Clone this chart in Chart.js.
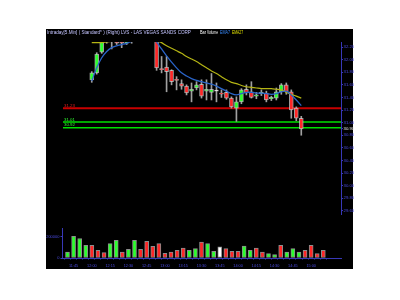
<!DOCTYPE html>
<html><head><meta charset="utf-8">
<script src="https://cdn.jsdelivr.net/npm/chart.js@4/dist/chart.umd.min.js"></script>
<style>
html,body{margin:0;padding:0;background:#fff;width:400px;height:300px;overflow:hidden}
#bg{position:absolute;left:46px;top:29px;width:307px;height:240px;background:#000}
#pc{position:absolute;left:0;top:0}
#vc{position:absolute;left:0;top:220px}
</style></head><body>
<div id="bg"></div>
<canvas id="pc" width="400" height="220"></canvas>
<canvas id="vc" width="400" height="80"></canvas>
<script>
// ---------- data ----------
const times = ['11:40','11:45','11:50','11:55','12:00','12:05','12:10','12:15','12:20','12:25','12:30','12:35','12:40','12:45','12:50','12:55','13:00','13:05','13:10','13:15','13:20','13:25','13:30','13:35','13:40','13:45','13:50','13:55','14:00','14:05','14:10','14:15','14:20','14:25','14:30','14:35','14:40','14:45','14:50','14:55','15:00','15:05','15:10'];
const open  = [31.68,31.79,32.12,32.28,32.38,32.32,32.31,32.26,32.30,32.40,32.36,32.45,32.55,32.48,31.86,31.88,31.83,31.68,31.62,31.58,31.50,31.55,31.61,31.50,31.48,31.50,31.47,31.48,31.39,31.23,31.33,31.53,31.49,31.42,31.46,31.47,31.38,31.39,31.49,31.60,31.49,31.23,31.07];
const high  = [31.81,32.11,32.33,32.42,32.40,32.34,32.33,32.33,32.40,32.44,32.48,32.58,32.60,32.52,32.05,32.05,31.84,31.73,31.68,31.60,31.63,31.65,31.68,31.68,31.78,31.63,31.52,31.52,31.41,31.41,31.54,31.60,31.65,31.48,31.52,31.50,31.42,31.55,31.62,31.63,31.52,31.25,31.10];
const low   = [31.64,31.77,32.10,32.26,32.17,32.24,32.19,32.24,32.26,32.33,32.34,32.43,32.45,31.83,31.79,31.49,31.60,31.52,31.53,31.44,31.33,31.52,31.39,31.36,31.36,31.33,31.40,31.37,31.23,31.02,31.30,31.44,31.39,31.38,31.43,31.33,31.35,31.36,31.45,31.45,31.07,31.03,30.80];
const close = [31.79,32.09,32.29,32.38,32.30,32.26,32.26,32.30,32.38,32.36,32.45,32.55,32.48,31.87,31.84,31.81,31.65,31.67,31.58,31.47,31.53,31.60,31.42,31.53,31.53,31.50,31.45,31.39,31.25,31.33,31.52,31.47,31.40,31.44,31.48,31.36,31.40,31.49,31.60,31.49,31.20,31.07,30.90];
const volume = [57000,207000,185000,121000,121000,73000,51000,137000,169000,57000,83000,169000,83000,159000,111000,137000,45000,57000,73000,95000,73000,89000,152000,137000,64000,105000,89000,64000,64000,114000,73000,95000,57000,42000,32000,121000,57000,89000,57000,73000,121000,42000,73000];
const ema7  = [31.66,31.87,32.03,32.13,32.19,32.22,32.24,32.26,32.29,32.32,32.36,32.41,32.43,32.28,32.17,32.06,31.96,31.87,31.79,31.74,31.70,31.67,31.65,31.63,31.61,31.58,31.54,31.50,31.46,31.44,31.46,31.48,31.48,31.47,31.47,31.46,31.45,31.46,31.49,31.50,31.44,31.36,31.27];
const ema27 = [32.27,32.27,32.27,32.28,32.29,32.30,32.30,32.31,32.31,32.32,32.33,32.34,32.35,32.30,32.27,32.22,32.18,32.14,32.10,32.05,32.01,31.97,31.92,31.87,31.82,31.78,31.73,31.68,31.64,31.62,31.59,31.57,31.56,31.55,31.54,31.54,31.54,31.53,31.52,31.48,31.45,31.42,31.39];
const priceTicks = [32.20,32.00,31.80,31.60,31.40,31.20,31.00,30.80,30.60,30.40,30.20,30.00,29.80,29.60];
const lastPrice = 30.90;
const levels = [31.23,31.01,30.92];
const volTicks = [0,200000];
const headerParts = ['Intraday[5.Min] ( Standard* ) (Right) LVS - LAS VEGAS SANDS CORP','Bar','Volume','EMA7','EMA27'];

// ---------- styles ----------
const levelStyle = [{c:'#c80000',w:2},{c:'#00e000',w:1.5},{c:'#00e000',w:1.5}];
const headerStyle = [{c:'#c4c4ff',x:47,w:148},{c:'#ffffff',x:200,w:6},{c:'#ffffff',x:207,w:11},{c:'#3a8cff',x:220,w:10},{c:'#e0e000',x:232,w:11}];
const AX = '#3838b8', LBL = '#4a4ae0';
const xMin = -0.37, xMax = 44.37;
function dirColor(i){ return close[i]>open[i] ? '#2cff2c' : (close[i]<open[i] ? '#ff2626' : '#ffffff'); }

const idx = times.map((t,i)=>i);
const wickData = idx.map(i=>({x:i, y:[low[i], high[i]]}));
const bodyData = idx.map(i=>({x:i, y:[open[i], close[i]]}));
const e7Data = idx.map(i=>({x:i, y:ema7[i]}));
const e27Data = idx.map(i=>({x:i, y:ema27[i]}));
const volData = idx.map(i=>({x:i, y:volume[i]}));

const pricePlugin = {
  id:'pricePlugin',
  beforeDatasetsDraw(chart){
    const {ctx, chartArea:a, scales:{y}} = chart;
    levels.forEach((lv,k)=>{
      const py = y.getPixelForValue(lv);
      ctx.save(); ctx.strokeStyle = levelStyle[k].c; ctx.lineWidth = levelStyle[k].w;
      ctx.beginPath(); ctx.moveTo(a.left+1, py); ctx.lineTo(a.right, py); ctx.stroke(); ctx.restore();
    });
  },
  afterDraw(chart){
    const {ctx, chartArea:a, scales:{y}} = chart;
    ctx.save();
    ctx.font = '4.6px Arial, "Liberation Sans", sans-serif';
    ctx.textBaseline = 'middle';
    headerParts.forEach((t,k)=>{ ctx.fillStyle = headerStyle[k].c; ctx.fillText(t, headerStyle[k].x, 32.5, headerStyle[k].w); });
    ctx.font = '4.4px Arial, "Liberation Sans", sans-serif';
    ctx.textBaseline = 'bottom';
    levels.forEach((lv,k)=>{
      const py = y.getPixelForValue(lv);
      ctx.fillStyle = levelStyle[k].c === '#c80000' ? '#e02020' : '#30ff30';
      ctx.fillText(lv.toFixed(2), a.left+2, py-0.5);
    });
    ctx.restore();
  }
};

new Chart(document.getElementById('pc'), {
  type:'bar',
  data:{datasets:[
    {type:'line', data:e7Data, borderColor:'#2a64c8', borderWidth:1.3, pointRadius:0, tension:0.3, order:0},
    {type:'line', data:e27Data, borderColor:'#b4b414', borderWidth:1.2, pointRadius:0, tension:0.3, order:0},
    {data:bodyData, grouped:false, barThickness:4, minBarLength:1, borderWidth:1, borderSkipped:false,
     borderColor:'rgba(210,210,210,0.75)', backgroundColor:c=>dirColor(c.dataIndex), order:1},
    {data:wickData, grouped:false, barThickness:1, backgroundColor:'#a0a0a0', borderWidth:0, order:2}
  ]},
  options:{
    responsive:false, animation:false, devicePixelRatio:1,
    layout:{padding:{left:62, top:42, right:0, bottom:6}},
    plugins:{legend:{display:false}, tooltip:{enabled:false}},
    scales:{
      x:{type:'linear', min:xMin, max:xMax, display:false},
      y:{position:'right', min:29.55, max:32.28,
         afterFit(s){ s.width = 59; },
         afterBuildTicks(s){ s.ticks = [...priceTicks, lastPrice].sort((p,q)=>q-p).map(v=>({value:v})); },
         border:{display:true, color:AX, dash:[2,1], width:1},
         grid:{drawOnChartArea:false, drawTicks:true, tickLength:2, color:AX},
         ticks:{autoSkip:false, padding:0.5, font:{size:4.3, family:'Arial'},
                color:c=> (c.tick && Math.abs(c.tick.value-lastPrice)<1e-6) ? '#e6e6e6' : LBL,
                callback:v=>Number(v).toFixed(2)}
      }
    }
  },
  plugins:[pricePlugin]
});

new Chart(document.getElementById('vc'), {
  type:'bar',
  data:{datasets:[
    {data:volData, grouped:false, barThickness:4, borderWidth:1, borderSkipped:false,
     borderColor:'rgba(200,200,200,0.7)', backgroundColor:c=>dirColor(c.dataIndex)}
  ]},
  options:{
    responsive:false, animation:false, devicePixelRatio:1,
    layout:{padding:{left:0, top:8, right:59, bottom:30}},
    plugins:{legend:{display:false}, tooltip:{enabled:false}},
    scales:{
      x:{type:'linear', min:xMin, max:xMax,
         afterFit(s){ s.height = 12; },
         afterBuildTicks(s){ s.ticks = idx.map(i=>({value:i})); },
         border:{display:true, color:AX, width:1},
         grid:{drawOnChartArea:false, drawTicks:true, tickLength:1.5, color:AX},
         ticks:{autoSkip:false, maxRotation:0, padding:4.5, color:LBL, font:{size:3.8, family:'Arial'},
                callback:v=>{ const t = times[v]; return (t && (+t.slice(3))%15===0) ? t : ''; }}
      },
      y:{position:'left', min:0, max:285000,
         afterFit(s){ s.width = 62; },
         afterBuildTicks(s){ s.ticks = volTicks.map(v=>({value:v})); },
         border:{display:true, color:AX, width:1},
         grid:{drawOnChartArea:false, drawTicks:true, tickLength:1.5, color:AX},
         ticks:{autoSkip:false, padding:1, color:LBL, font:{size:4, family:'Arial'}, callback:v=>String(v)}
      }
    }
  }
});
</script>
</body></html>
